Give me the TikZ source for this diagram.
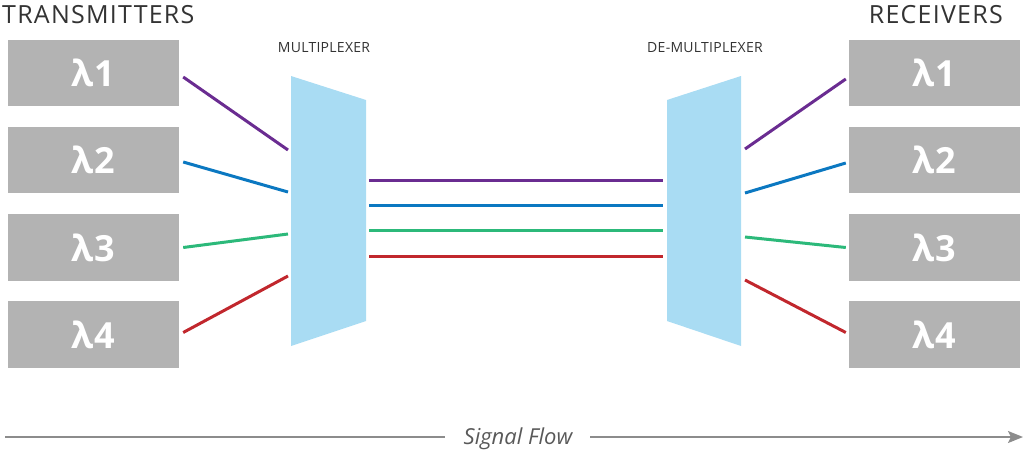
\documentclass[tikz,border=0pt]{standalone}
\usepackage{fontspec}
\setmainfont{Open Sans}
\usetikzlibrary{arrows.meta}
\definecolor{boxgray}{HTML}{B3B3B3}
\definecolor{muxblue}{HTML}{A9DCF3}
\definecolor{lpurple}{HTML}{6A2C91}
\definecolor{lblue}{HTML}{0B78C1}
\definecolor{lgreen}{HTML}{2CB97A}
\definecolor{lred}{HTML}{C1272D}
\definecolor{txtdark}{HTML}{333333}
\definecolor{flowgray}{HTML}{8C8C8C}
\tikzset{
  lambdabox/.style={fill=boxgray, draw=none, minimum width=171pt, minimum height=66.5pt,
    inner sep=0pt, text=white, font=\bfseries\fontsize{36}{36}\selectfont\addfontfeature{LetterSpace=3}},
  sig/.style={line width=3pt},
  title/.style={text=txtdark, font=\fontsize{25}{25}\selectfont\addfontfeature{LetterSpace=5}, inner sep=0pt},
  muxlabel/.style={text=txtdark, font=\fontsize{14}{14}\selectfont\addfontfeature{LetterSpace=2}, inner sep=0pt},
  flowline/.style={draw=flowgray, line width=1.6pt},
}
\begin{document}
\begin{tikzpicture}[x=1pt,y=-1pt]
\useasboundingbox (0,0) rectangle (1024,450);
% titles
\node[title, anchor=base west] (ttx) at (2,23) {TRANSMITTERS};
\node[title, anchor=base east] (trx) at (1003,23) {RECEIVERS};
\node[muxlabel, anchor=base] (lmux) at (324,52) {MULTIPLEXER};
\node[muxlabel, anchor=base] (ldemux) at (705,52) {DE-MULTIPLEXER};
% boxes
\node[lambdabox] (t1) at (93.5,73) {λ1};
\node[lambdabox] (t2) at (93.5,160) {λ2};
\node[lambdabox] (t3) at (93.5,247.5) {λ3};
\node[lambdabox] (t4) at (93.5,334.5) {λ4};
\node[lambdabox] (r1) at (934.5,73) {λ1};
\node[lambdabox] (r2) at (934.5,160) {λ2};
\node[lambdabox] (r3) at (934.5,247.5) {λ3};
\node[lambdabox] (r4) at (934.5,334.5) {λ4};
% multiplexer and demultiplexer
\fill[muxblue] (291,76) -- (366,100) -- (366,321) -- (291,346) -- cycle;
\fill[muxblue] (667,100) -- (741,76) -- (741,346) -- (667,321) -- cycle;
\coordinate (ml1) at (288,150);
\coordinate (ml2) at (288,192);
\coordinate (ml3) at (288,234);
\coordinate (ml4) at (288,276);
\coordinate (mr1) at (369,180);
\coordinate (mr2) at (369,205);
\coordinate (mr3) at (369,230);
\coordinate (mr4) at (369,256);
\coordinate (dl1) at (663,180);
\coordinate (dl2) at (663,205);
\coordinate (dl3) at (663,230);
\coordinate (dl4) at (663,256);
\coordinate (dr1) at (745,149);
\coordinate (dr2) at (745,193);
\coordinate (dr3) at (745,237);
\coordinate (dr4) at (745,280);
% signals
\draw[sig, lpurple] ([shift={(4,4)}]t1.east) -- (ml1);
\draw[sig, lblue]   ([shift={(4,2)}]t2.east) -- (ml2);
\draw[sig, lgreen]  ([shift={(4,0)}]t3.east) -- (ml3);
\draw[sig, lred]    ([shift={(4,-2)}]t4.east) -- (ml4);
\draw[sig, lpurple] (mr1) -- (dl1);
\draw[sig, lblue]   (mr2) -- (dl2);
\draw[sig, lgreen]  (mr3) -- (dl3);
\draw[sig, lred]    (mr4) -- (dl4);
\draw[sig, lpurple] (dr1) -- ([shift={(-3,6)}]r1.west);
\draw[sig, lblue]   (dr2) -- ([shift={(-3,3)}]r2.west);
\draw[sig, lgreen]  (dr3) -- ([shift={(-3,0)}]r3.west);
\draw[sig, lred]    (dr4) -- ([shift={(-3,-2)}]r4.west);
% signal flow
\coordinate (fa) at (5,437);
\coordinate (fb) at (445,437);
\coordinate (fc) at (590,437);
\coordinate (fd) at (1023,437);
\node[text=black!65, font=\itshape\fontsize{22}{22}\selectfont, inner sep=0pt, anchor=base] (flow) at (518,444) {Signal Flow};
\draw[flowline] (fa) -- (fb);
\draw[flowline, -{Stealth[length=15pt,width=12pt,inset=3pt]}] (fc) -- (fd);
\end{tikzpicture}
\end{document}
